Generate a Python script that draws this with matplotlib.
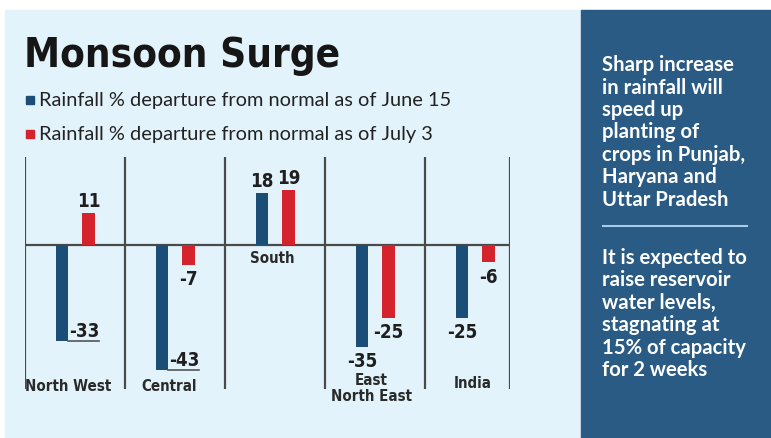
import matplotlib.pyplot as plt
from matplotlib.patches import Rectangle

# data
regions = ['North West', 'Central', 'South', 'East\nNorth East', 'India']
june15 = [-33, -43, 18, -35, -25]
july3 = [11, -7, 19, -25, -6]
series_names = ['Rainfall % departure from normal as of June 15',
                'Rainfall % departure from normal as of July 3']
title = 'Monsoon Surge'
note1 = ['Sharp increase', 'in rainfall will', 'speed up', 'planting of',
         'crops in Punjab,', 'Haryana and', 'Uttar Pradesh']
note2 = ['It is expected to', 'raise reservoir', 'water levels,',
         'stagnating at', '15% of capacity', 'for 2 weeks']

# styles
BLUE = '#1a4e77'
RED = '#d5232e'
LIGHT = '#e3f3fb'
DARK = '#2a5b84'
GRID = '#4a4a4a'
NARROW = dict(family='DejaVu Sans', fontstretch='condensed')
W, H = 771, 439
blue_style = ['right', 'right', 'above', 'below', 'below']
red_style = ['above', 'below', 'above', 'below', 'below']

fig = plt.figure(figsize=(W / 100, H / 100), dpi=100)

# background axes in pixel coordinates (y down)
bg = fig.add_axes([0, 0, 1, 1])
bg.set_xlim(0, W)
bg.set_ylim(H, 0)
bg.axis('off')
bg.add_patch(Rectangle((5, 11), 576, H - 11, color=LIGHT, zorder=0))
bg.add_patch(Rectangle((581, 11), W - 581, H - 11, color=DARK, zorder=0))

t = bg.text(24, 67, title, fontsize=36, fontweight='bold', color='#161616',
            va='baseline', ha='left', **NARROW)
# fit title to its width in the reference
r = fig.canvas.get_renderer()
t.set_fontsize(36 * 316 / t.get_window_extent(r).width)

for i, (name, col) in enumerate(zip(series_names, [BLUE, RED])):
    y = 101 + 34 * i
    bg.add_patch(Rectangle((26, y - 4), 7.5, 8, color=col, zorder=2))
    bg.text(39, y, name, fontsize=14.4, family=['Lato', 'DejaVu Sans'],
            color='#222222', va='center', ha='left')

note = dict(fontsize=14.6, fontweight='bold', family=['Lato', 'DejaVu Sans'],
            color='white', va='center', ha='left')
for k, line in enumerate(note1):
    bg.text(602, 65 + 22.5 * k, line, **note)
bg.plot([603, 747], [227, 227], color='#a9cce6', lw=1.5)
for k, line in enumerate(note2):
    bg.text(602, 258 + 22.4 * k, line, **note)

# chart axes: zero at y=246px, 2.9 px per unit, groups 100px wide from x=25
top_px, bot_px, zero_px, ppu = 158, 390, 246, 2.9
ax = fig.add_axes([25 / W, (H - bot_px) / H, 485 / W, (bot_px - top_px) / H])
ax.patch.set_alpha(0)
ax.set_xlim(-0.5, 4.35)
ax.set_ylim(-(bot_px - zero_px) / ppu, (zero_px - top_px) / ppu)
ax.axis('off')

x = list(range(len(regions)))
bw = 0.125
xb = [i - 0.13 for i in x]
xr = [i + 0.135 for i in x]
ax.bar(xb, june15, width=bw, color=BLUE, zorder=3)
ax.bar(xr, july3, width=bw, color=RED, zorder=3)

ax.axhline(0, color=GRID, lw=1.6, zorder=2)
for d in [-0.5, 0.5, 1.5, 2.5, 3.5, 4.35]:
    ax.axvline(d, color=GRID, lw=1.6, zorder=2)

lab = dict(fontsize=13.5, fontweight='bold', color='#1f1f1f',
           ha='center', zorder=4, **NARROW)
for xs, vals, styles in [(xb, june15, blue_style), (xr, july3, red_style)]:
    for xi, v, s in zip(xs, vals, styles):
        txt = str(v)
        if s == 'above':
            ax.annotate(txt, (xi, v), xytext=(0, 2), textcoords='offset points',
                        va='bottom', **lab)
        elif s == 'below':
            ax.annotate(txt, (xi, v), xytext=(0, -3), textcoords='offset points',
                        va='top', **lab)
        else:
            x0 = xi + bw / 2
            ax.plot([x0, x0 + 0.31], [v, v], color='#555555', lw=1.2, zorder=4)
            ax.annotate(txt, (x0 + 0.165, v), xytext=(0, 0.5),
                        textcoords='offset points', va='bottom', **lab)

cat_y = [-48.5, -48.5, -4.2, -49.2, -47.4]
cat_dx = [-0.07, -0.06, -0.03, -0.04, -0.02]
for i, name in enumerate(regions):
    ax.text(i + cat_dx[i], cat_y[i], name, fontsize=10.8, fontweight='bold',
            color='#2a2a2a', ha='center', va='center', linespacing=1.05,
            zorder=4, **NARROW)

fig.savefig('out.png', dpi=100)
